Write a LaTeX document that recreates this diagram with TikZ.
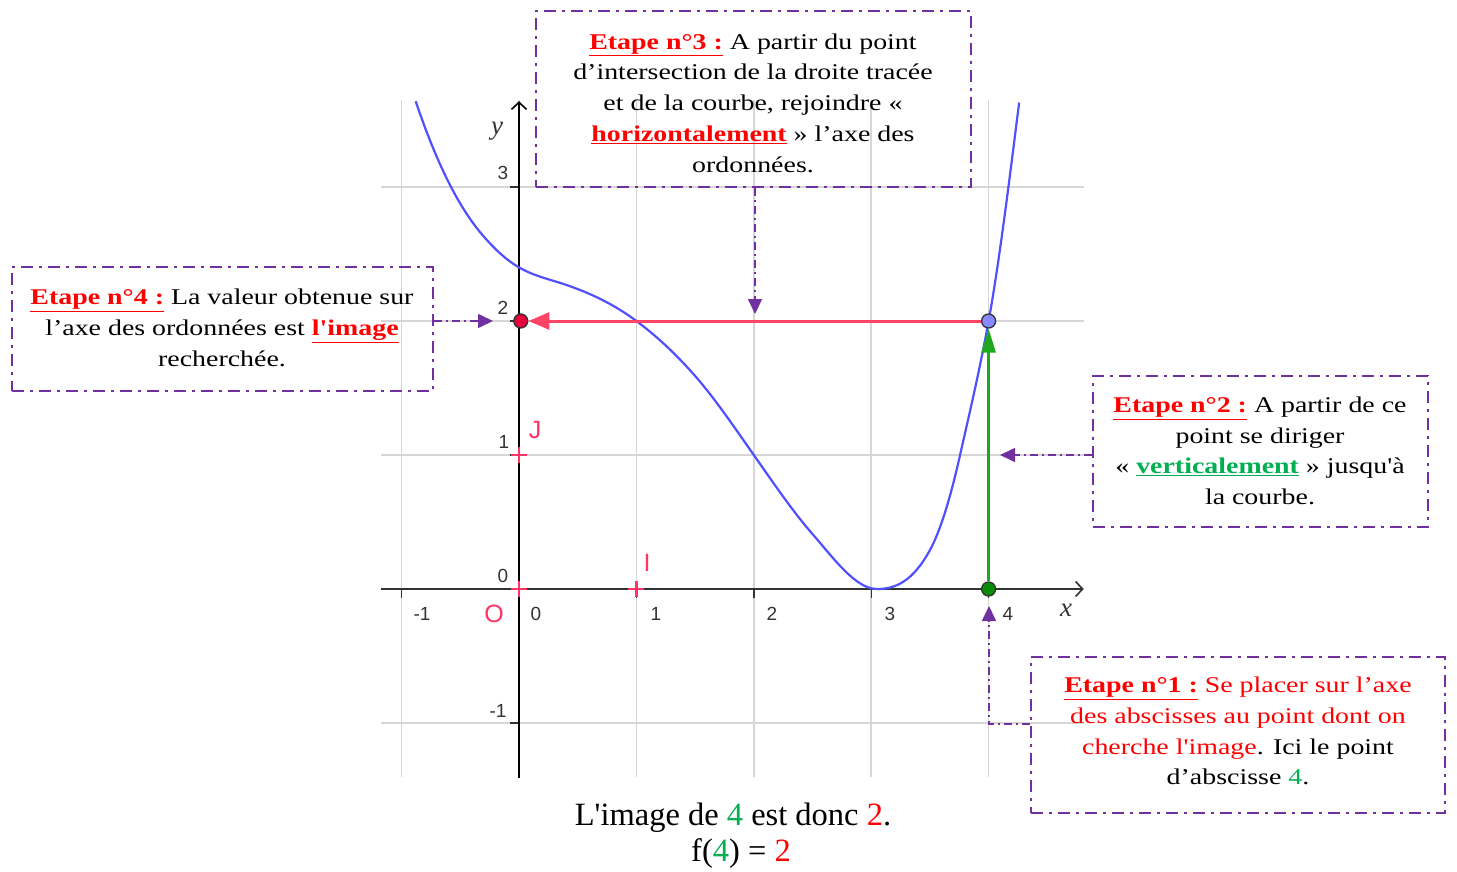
\documentclass[tikz,border=0pt]{standalone}
\usepackage{fontspec}
\setmainfont{Liberation Serif}[FakeStretch=1.24, Ligatures=TeXOff]
\newfontfamily\resfont{Liberation Serif}[Ligatures=TeXOff]
\newfontfamily\axfont{Liberation Sans}
\usetikzlibrary{arrows.meta}
\definecolor{purp}{HTML}{7030A0}
\definecolor{wgreen}{HTML}{00B050}
\definecolor{wred}{HTML}{FF0000}
\definecolor{gridc}{HTML}{D6D6D6}
\definecolor{axc}{HTML}{333333}
\definecolor{curvec}{HTML}{5050FF}
\definecolor{ptred}{HTML}{FF3366}
\definecolor{redln}{HTML}{FF4466}
\definecolor{dotred}{HTML}{E8003C}
\definecolor{dotblue}{HTML}{8888FF}
\definecolor{dotgreen}{HTML}{0A8A0A}
\definecolor{grln}{HTML}{1FA81F}
\newcommand{\etp}[1]{\textcolor{wred}{\textbf{\underline{#1}}}}
\tikzset{
  stepbox/.style={draw=purp, line width=2.4pt, dash pattern=on 12pt off 6pt on 3pt off 6pt, inner sep=0pt},
  steptext/.style={align=center, inner sep=0pt, font=\fontsize{22.5}{30.7}\selectfont},
  conn/.style={draw=purp, line width=1.6pt, dash pattern=on 8pt off 4pt on 2pt off 4pt, -{Triangle[length=15pt,width=14pt]}},
  gridl/.style={draw=gridc, line width=1.6pt},
  axisl/.style={draw=axc, line width=2pt},
  tickl/.style={draw=axc, line width=1.4pt},
  ticklab/.style={font=\axfont\fontsize{19}{19}\selectfont, text=axc, inner sep=0pt},
  axname/.style={font=\resfont\itshape\fontsize{27}{27}\selectfont, text=axc, inner sep=0pt},
  ptlab/.style={font=\axfont\fontsize{25}{25}\selectfont, text=ptred, inner sep=0pt},
  cross/.style={draw=ptred, line width=2.4pt},
  dot/.style={circle, inner sep=0pt, minimum size=14pt, draw=black!80, line width=1.3pt},
  curve/.style={draw=curvec, line width=2.2pt},
  restext/.style={inner sep=0pt, anchor=base, font=\resfont\fontsize{32.5}{37}\selectfont},
}
\begin{document}
\begin{tikzpicture}[x=1pt, y=-1pt]
\useasboundingbox (0,0) rectangle (1457,872);
% graph
\begin{scope}[shift={(519pt,-589pt)}, x=117.4pt, y=134pt]
  \foreach \i in {-1,...,4} \draw[gridl] (\i,-1.40) -- (\i,3.65);
  \foreach \j in {-1,...,3} \draw[gridl] (-1.175,\j) -- (4.81,\j);
  \foreach \i in {-1,...,4} \draw[tickl] (\i,0) -- ++(0pt,-9pt);
  \foreach \j in {-1,...,3} \draw[tickl] (0,\j) -- ++(-9pt,0pt);
  \draw[axisl, line width=2.6pt, -{Straight Barb[length=7pt,width=15pt,line width=1.6pt]}] (-1.175,0) -- (4.81,0);
  \draw[axisl, draw=black, -{Straight Barb[length=7pt,width=15pt,line width=1.6pt]}] (0,-1.41) -- (0,3.64);
  \draw[curve] (-0.88,3.64)
    .. controls (-0.6867,3.1373) and (-0.4933,2.8233) .. (-0.3,2.63)
    .. controls (-0.2,2.53) and (-0.1,2.45) .. (0,2.40)
    .. controls (0.1333,2.3333) and (0.2667,2.31) .. (0.4,2.27)
    .. controls (0.6,2.21) and (0.8,2.13) .. (1,2.0)
    .. controls (1.1667,1.8917) and (1.3333,1.7567) .. (1.5,1.59)
    .. controls (1.6667,1.4233) and (1.8333,1.2083) .. (2,1.0)
    .. controls (2.1667,0.7917) and (2.3333,0.5767) .. (2.5,0.41)
    .. controls (2.6833,0.2267) and (2.8667,0) .. (3.05,0)
    .. controls (3.2,0) and (3.35,0.05) .. (3.5,0.29)
    .. controls (3.5857,0.4271) and (3.6713,0.6659) .. (3.757,1.0)
    .. controls (3.838,1.3159) and (3.919,1.6112) .. (4,2.0)
    .. controls (4.0867,2.416) and (4.1733,3.0233) .. (4.26,3.63);
  \coordinate (O) at (0,0);
  \coordinate (I) at (1,0);
  \coordinate (J) at (0,1);
  \foreach \p in {O,I,J} \draw[cross] ([xshift=-8pt]\p) -- ([xshift=8pt]\p) ([yshift=-8pt]\p) -- ([yshift=8pt]\p);
  \node[dot, fill=dotgreen] (A) at (4,0) {};
  \node[dot, fill=dotblue] (B) at (4,2) {};
  \node[dot, fill=dotred] (C) at (0.015,2) {};
  \draw[draw=grln, line width=2.6pt, -{Triangle[length=24pt,width=14pt]}] (A) -- (B);
  \draw[draw=redln, line width=3pt, -{Triangle[length=21pt,width=17pt]}] (B) -- (C);
\end{scope}
% tick labels
\node[ticklab] (xm1) at (422,614) {-1};
\node[ticklab] (x0) at (536,614) {0};
\node[ticklab] (x1) at (656,614) {1};
\node[ticklab] (x2) at (772,614) {2};
\node[ticklab] (x3) at (890,614) {3};
\node[ticklab] (x4) at (1008,614) {4};
\node[ticklab] (y3) at (503,173) {3};
\node[ticklab] (y2) at (503,308) {2};
\node[ticklab] (y1) at (504,442) {1};
\node[ticklab] (y0) at (503,576) {0};
\node[ticklab] (ym1) at (498,711) {-1};
\node[axname] (xn) at (1066,610) {x};
\node[axname] (yn) at (497,131) {y};
\node[ptlab] (lO) at (494,614) {O};
\node[ptlab] (lI) at (647,563) {I};
\node[ptlab] (lJ) at (535,430) {J};
% boxes
\node[stepbox, minimum width=435pt, minimum height=176pt] (b3) at (753.5,99) {};
\node[steptext] (t3) at (753,103) {\etp{Etape n°3 :} A partir du point\\ d’intersection de la droite tracée\\ et de la courbe, rejoindre «\\ \etp{horizontalement} » l’axe des\\ ordonnées.};
\node[stepbox, minimum width=421pt, minimum height=124pt] (b4) at (222.5,329) {};
\node[steptext] (t4) at (222,328) {\etp{Etape n°4 :} La valeur obtenue sur\\ l’axe des ordonnées est \etp{l'image}\\ recherchée.};
\node[stepbox, minimum width=335pt, minimum height=151pt] (b2) at (1260.5,451.5) {};
\node[steptext] (t2) at (1260,451) {\etp{Etape n°2 :} A partir de ce\\ point se diriger\\ « \textcolor{wgreen}{\textbf{\underline{verticalement}}} » jusqu'à\\ la courbe.};
\node[stepbox, minimum width=414pt, minimum height=156pt] (b1) at (1238,735) {};
\node[steptext] (t1) at (1238,731) {\etp{Etape n°1 :} \textcolor{wred}{Se placer sur l’axe}\\ \textcolor{wred}{des abscisses au point dont on}\\ \textcolor{wred}{cherche l'image}. Ici le point\\ d’abscisse \textcolor{wgreen}{4}.};
% connectors
\coordinate (e3) at (755,314);
\coordinate (e4) at (493,321);
\coordinate (e2) at (1000,455);
\coordinate (k1) at (1031,724);
\coordinate (e1) at (989,606);
\draw[conn] (b3.south -| e3) -- (e3);
\draw[conn] (b4.east |- e4) -- (e4);
\draw[conn] (b2.west |- e2) -- (e2);
\draw[conn] (b1.west |- k1) -| (e1);
% result
\node[restext] (res1) at (733,825) {L'image de \textcolor{wgreen}{4} est donc \textcolor{wred}{2}.};
\node[restext] (res2) at (741,861) {f(\textcolor{wgreen}{4}) = \textcolor{wred}{2}};
\end{tikzpicture}
\end{document}
